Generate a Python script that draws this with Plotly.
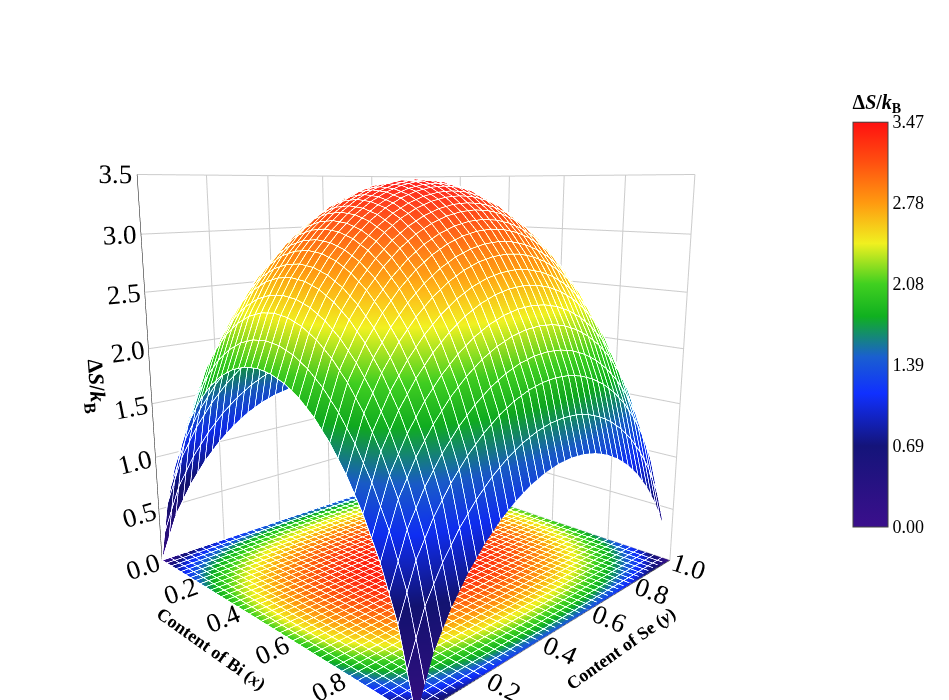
import plotly.graph_objects as go
import numpy as np

grid = [0, .05, .1, .15, .2, .25, .3, .35, .4, .45, .5, .55, .6, .65, .7, .75, .8, .85, .9, .95, 1.0]
# Bi-site contribution (read along x edge)
bi_prof = [0, .596, .975, 1.268, 1.501, 1.687, 1.833, 1.942, 2.019, 2.064, 2.079,
           2.064, 2.019, 1.942, 1.833, 1.687, 1.501, 1.268, .975, .596, 0]
# Se-site contribution (read along y edge)
se_prof = [0, .397, .650, .845, 1.001, 1.125, 1.222, 1.295, 1.346, 1.376, 1.386,
           1.376, 1.346, 1.295, 1.222, 1.125, 1.001, .845, .650, .397, 0]
cb_ticks = [0.00, 0.69, 1.39, 2.08, 2.78, 3.47]

Z = np.add.outer(np.array(se_prof), np.array(bi_prof))  # rows: y, cols: x

cs = [[0, "#3b0f8c"], [0.2, "#14147a"], [0.33, "#1030ff"], [0.42, "#1a5fd0"],
      [0.52, "#10b020"], [0.6, "#40d020"], [0.7, "#f0f020"], [0.8, "#ff9a10"],
      [0.9, "#ff5010"], [1, "#ff1010"]]

lines = dict(x=dict(show=True, start=0, end=1, size=0.025, color="rgba(255,255,255,0.3)", width=1),
             y=dict(show=True, start=0, end=1, size=0.025, color="rgba(255,255,255,0.3)", width=1))
common = dict(colorscale=cs, cmin=0, cmax=3.47, x=grid, y=grid)
fig = go.Figure()
fig.add_trace(go.Surface(z=Z, **common, showscale=True, contours=lines,
    lighting=dict(ambient=0.9, diffuse=0.3, specular=0.05),
    colorbar=dict(title=dict(text="<b>Δ<i>S</i>/<i>k</i><sub>B</sub></b>", side="top",
                             font=dict(size=20, family="Liberation Serif")),
                  tickvals=cb_ticks, ticktext=[f"{v:.2f}" for v in cb_ticks],
                  tickfont=dict(size=18, family="Liberation Serif"),
                  len=0.65, thickness=35, x=0.88, xanchor="left", y=0.57, outlinewidth=1)))
fig.add_trace(go.Surface(z=np.zeros_like(Z), surfacecolor=Z, **common, showscale=False,
    contours=lines, lighting=dict(ambient=1, diffuse=0, specular=0)))

f = dict(family="Liberation Serif", size=18, color="black")
ax = dict(showbackground=False, gridcolor="#cccccc", showline=True, linecolor="black",
          tickfont=f, showspikes=False)
fig.update_layout(
    width=949, height=700, margin=dict(l=0, r=0, t=0, b=0),
    paper_bgcolor="white", font=f,
    scene=dict(
        xaxis=dict(ax, title=dict(text="<b>Content of Bi (<i>x</i>)</b>", font=f), range=[0, 1],
                   tickvals=[0.2, 0.4, 0.6, 0.8, 1.0], ticktext=["0.2", "0.4", "0.6", "0.8", "1.0"]),
        yaxis=dict(ax, title=dict(text="<b>Content of Se (<i>y</i>)</b>", font=f), range=[0, 1],
                   tickvals=[0.2, 0.4, 0.6, 0.8, 1.0], ticktext=["0.2", "0.4", "0.6", "0.8", "1.0"]),
        zaxis=dict(ax, title=dict(text="<b>Δ<i>S</i>/<i>k</i><sub>B</sub></b>", font=dict(f, size=22)),
                   range=[0, 3.5], tickvals=[0, .5, 1, 1.5, 2, 2.5, 3, 3.5],
                   ticktext=["0.0", "0.5", "1.0", "1.5", "2.0", "2.5", "3.0", "3.5"]),
        aspectmode="manual", aspectratio=dict(x=1, y=1, z=1.05),
        camera=dict(eye=dict(x=1.55, y=-1.55, z=0.5), center=dict(x=0, y=0, z=0.05)),
        domain=dict(x=[0, 0.86], y=[0, 1])))
fig.write_html("out.html")
